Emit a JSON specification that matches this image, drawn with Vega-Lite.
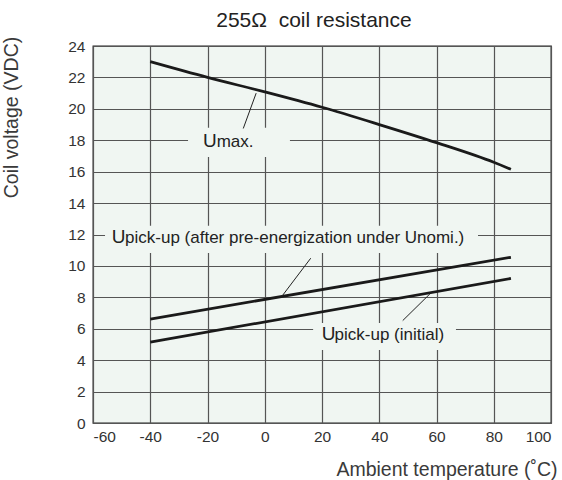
{
  "$schema": "https://vega.github.io/schema/vega-lite/v6.json",
  "width": 458,
  "height": 377,
  "autosize": {"type": "none"},
  "padding": {"left": 93, "top": 46, "right": 11, "bottom": 57},
  "background": "white",
  "config": {
    "font": "Liberation Sans",
    "view": {"fill": "#f0f6f2", "stroke": "#222222", "strokeWidth": 1.3},
    "axis": {"domain": false, "ticks": false, "grid": true, "gridColor": "#555555", "gridWidth": 1.2,
             "labelFont": "Liberation Sans", "labelFontSize": 15.5, "labelColor": "#333333",
             "titleFont": "Liberation Sans", "titleFontSize": 19.5, "titleFontWeight": "normal", "titleColor": "#3a3a3a"}
  },
  "title": {"text": "255Ω\u00a0\u00a0coil resistance", "fontSize": 21, "fontWeight": "normal", "color": "#222222", "font": "Liberation Sans", "offset": 5, "dx": -8},
  "datasets": {
    "curves": [
      {"series": "Umax", "T": -40, "V": 23.0},
      {"series": "Umax", "T": -20, "V": 22.0},
      {"series": "Umax", "T": 0, "V": 21.08},
      {"series": "Umax", "T": 20, "V": 20.1},
      {"series": "Umax", "T": 40, "V": 19.0},
      {"series": "Umax", "T": 60, "V": 17.85},
      {"series": "Umax", "T": 80, "V": 16.6},
      {"series": "Umax", "T": 86, "V": 16.15},
      {"series": "after", "T": -40, "V": 6.62},
      {"series": "after", "T": 86, "V": 10.55},
      {"series": "initial", "T": -40, "V": 5.15},
      {"series": "initial", "T": 86, "V": 9.2}
    ],
    "leaders": [
      {"id": "Umax", "T": -3.0, "V": 21.0},
      {"id": "Umax", "T": -7.5, "V": 18.75},
      {"id": "after", "T": 16.06, "V": 10.49},
      {"id": "after", "T": 5.92, "V": 8.05},
      {"id": "initial", "T": 48.2, "V": 6.52},
      {"id": "initial", "T": 57.7, "V": 8.22}
    ],
    "boxes": [
      {"id": "Umax", "T1": -26.8, "T2": 8.8, "V1": 16.94, "V2": 18.79},
      {"id": "after", "T1": -55.8, "T2": 74.5, "V1": 10.83, "V2": 12.55},
      {"id": "initial", "T1": 16.9, "T2": 66.8, "V1": 4.65, "V2": 6.37}
    ],
    "labels": [
      {"part": "main", "text": "U", "T": -21.57, "V": 17.58},
      {"part": "sub", "text": "max.", "T": -16.8, "V": 17.58},
      {"part": "main", "text": "U", "T": -53.47, "V": 11.45},
      {"part": "sub", "text": "pick-up (after pre-energization under Unomi.)", "T": -48.8, "V": 11.45},
      {"part": "main", "text": "U", "T": 19.9, "V": 5.29},
      {"part": "sub", "text": "pick-up (initial)", "T": 24.4, "V": 5.29}
    ]
  },
  "encoding": {
    "x": {"field": "T", "type": "quantitative",
          "scale": {"domain": [-60, 100], "nice": false, "zero": false},
          "axis": {"values": [-60, -40, -20, 0, 20, 40, 60, 80, 100], "labelPadding": 6,
                   "labelExpr": "'' + datum.value",
                   "title": "Ambient temperature (˚C)", "titleX": 464, "titleY": 52,
                   "titleAlign": "right", "titleBaseline": "alphabetic"}},
    "y": {"field": "V", "type": "quantitative",
          "scale": {"domain": [0, 24], "nice": false},
          "axis": {"values": [0, 2, 4, 6, 8, 10, 12, 14, 16, 18, 20, 22, 24], "labelPadding": 8,
                   "labelExpr": "'' + datum.value",
                   "title": "Coil voltage (VDC)", "titleX": -82, "titleY": 71, "titleAngle": 270,
                   "titleAlign": "center", "titleBaseline": "middle"}}
  },
  "layer": [
    {
      "data": {"name": "boxes"},
      "mark": {"type": "rect", "fill": "#f0f6f2", "stroke": null},
      "encoding": {
        "x": {"field": "T1", "type": "quantitative"},
        "x2": {"field": "T2"},
        "y": {"field": "V1", "type": "quantitative"},
        "y2": {"field": "V2"}
      }
    },
    {
      "data": {"name": "curves"},
      "mark": {"type": "line", "color": "#1a1a1a", "strokeWidth": 2.8, "interpolate": "monotone"},
      "encoding": {"detail": {"field": "series"}}
    },
    {
      "data": {"name": "leaders"},
      "mark": {"type": "line", "color": "#222222", "strokeWidth": 1},
      "encoding": {"detail": {"field": "id"}}
    },
    {
      "data": {"name": "labels"},
      "transform": [{"filter": "datum.part === 'main'"}],
      "mark": {"type": "text", "align": "left", "baseline": "alphabetic", "fontSize": 19, "color": "#222222"},
      "encoding": {"text": {"field": "text"}}
    },
    {
      "data": {"name": "labels"},
      "transform": [{"filter": "datum.part === 'sub'"}],
      "mark": {"type": "text", "align": "left", "baseline": "alphabetic", "fontSize": 17, "color": "#222222"},
      "encoding": {"text": {"field": "text"}}
    }
  ]
}
